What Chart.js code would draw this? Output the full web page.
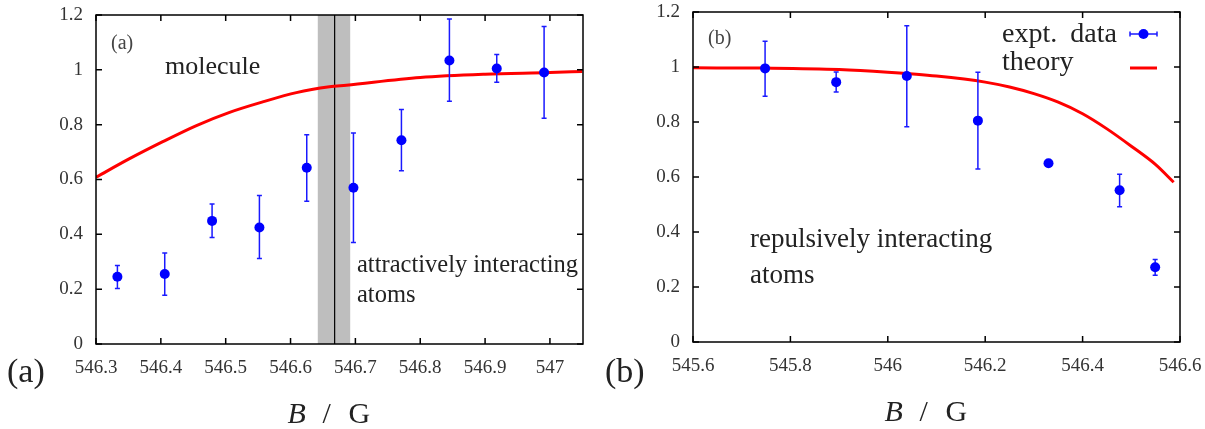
<!DOCTYPE html>
<html>
<head>
<meta charset="utf-8">
<script src="https://cdn.jsdelivr.net/npm/chart.js@4.4.0/dist/chart.umd.min.js"></script>
<style>
  body { margin: 0; background: #fff; }
  #wrap { position: relative; width: 1205px; height: 429px; }
  canvas { position: absolute; top: 0; }
  #chartA { left: 0; }
  #chartB { left: 600px; }
</style>
</head>
<body>
<div id="wrap">
  <canvas id="chartA" width="600" height="429"></canvas>
  <canvas id="chartB" width="605" height="429"></canvas>
</div>
<script>
// ---- panel (a) data ----
var fieldA    = [546.333, 546.406, 546.479, 546.552, 546.625, 546.697, 546.771, 546.845, 546.918, 546.991];
var fracA     = [0.245, 0.255, 0.449, 0.425, 0.643, 0.570, 0.743, 1.034, 1.005, 0.990];
var fracALow  = [0.202, 0.178, 0.388, 0.312, 0.521, 0.370, 0.632, 0.885, 0.955, 0.823];
var fracAHigh = [0.286, 0.332, 0.511, 0.542, 0.763, 0.770, 0.855, 1.185, 1.056, 1.158];
var theoryAx  = [546.300, 546.351, 546.403, 546.454, 546.506, 546.557, 546.609, 546.660, 546.686, 546.8, 546.9, 547.0, 547.05];
var theoryAy  = [0.608, 0.675, 0.738, 0.796, 0.845, 0.883, 0.917, 0.938, 0.944, 0.972, 0.984, 0.990, 0.994];
var xTicksA   = [546.3, 546.4, 546.5, 546.6, 546.7, 546.8, 546.9, 547.0];
var bandA     = [546.642, 546.692];   // shaded resonance region
var centerA   = 546.668;              // resonance position

// ---- panel (b) data ----
var fieldB    = [545.748, 545.894, 546.039, 546.185, 546.330, 546.476, 546.549];
var fracB     = [0.995, 0.945, 0.967, 0.805, 0.650, 0.552, 0.272];
var fracBLow  = [0.894, 0.909, 0.783, 0.629, 0.650, 0.492, 0.243];
var fracBHigh = [1.094, 0.982, 1.150, 0.981, 0.650, 0.610, 0.300];
var theoryBx  = [545.6, 545.75, 545.9, 546.0, 546.1, 546.2, 546.25, 546.3, 546.35, 546.4, 546.45, 546.5, 546.55, 546.587];
var theoryBy  = [0.997, 0.996, 0.991, 0.981, 0.967, 0.945, 0.927, 0.903, 0.872, 0.830, 0.775, 0.712, 0.645, 0.581];
var xTicksB   = [545.6, 545.8, 546.0, 546.2, 546.4, 546.6];

var yTicks    = [0, 0.2, 0.4, 0.6, 0.8, 1.0, 1.2];

var FONT = '"Liberation Serif", "Times New Roman", serif';

function pts(xs, ys) {
  return xs.map(function(x, i) { return { x: x, y: ys[i] }; });
}

function fmt(v) {
  return String(Number(v.toFixed(3)));
}

// error bars, drawn just before the data points
var errorBarPlugin = {
  id: 'errorBars',
  beforeDatasetDraw: function(chart, args) {
    var ds = chart.data.datasets[args.index];
    if (!ds.errLow) return;
    var ctx = chart.ctx, xs = chart.scales.x, ys = chart.scales.y;
    ctx.save();
    ctx.strokeStyle = '#1a1aff';
    ctx.lineWidth = 1.5;
    ds.data.forEach(function(p, i) {
      var px = xs.getPixelForValue(p.x);
      var lo = ys.getPixelForValue(ds.errLow[i]);
      var hi = ys.getPixelForValue(ds.errHigh[i]);
      if (Math.abs(lo - hi) < 1) return;
      ctx.beginPath();
      ctx.moveTo(px, lo); ctx.lineTo(px, hi);
      ctx.moveTo(px - 2.5, lo); ctx.lineTo(px + 2.5, lo);
      ctx.moveTo(px - 2.5, hi); ctx.lineTo(px + 2.5, hi);
      ctx.stroke();
    });
    ctx.restore();
  }
};

// gnuplot style frame, inward ticks, texts
var decorPlugin = {
  id: 'decor',
  beforeDatasetsDraw: function(chart, args, opts) {
    if (!opts.band) return;
    var ctx = chart.ctx, a = chart.chartArea, xs = chart.scales.x;
    var x0 = xs.getPixelForValue(opts.band[0]);
    var x1 = xs.getPixelForValue(opts.band[1]);
    var xc = xs.getPixelForValue(opts.center);
    ctx.save();
    ctx.fillStyle = '#bebebe';
    ctx.fillRect(x0, a.top, x1 - x0, a.bottom - a.top);
    ctx.strokeStyle = '#000';
    ctx.lineWidth = 1.2;
    ctx.beginPath();
    ctx.moveTo(xc, a.top); ctx.lineTo(xc, a.bottom);
    ctx.stroke();
    ctx.restore();
  },
  afterDraw: function(chart, args, opts) {
    var ctx = chart.ctx, a = chart.chartArea;
    var xs = chart.scales.x, ys = chart.scales.y;
    ctx.save();
    ctx.strokeStyle = '#000';
    ctx.lineWidth = 1.5;
    ctx.beginPath();
    xs.ticks.forEach(function(t) {
      var px = xs.getPixelForValue(t.value);
      ctx.moveTo(px, a.bottom); ctx.lineTo(px, a.bottom - 6);
      ctx.moveTo(px, a.top); ctx.lineTo(px, a.top + 6);
    });
    ys.ticks.forEach(function(t) {
      var py = ys.getPixelForValue(t.value);
      ctx.moveTo(a.left, py); ctx.lineTo(a.left + 6, py);
      ctx.moveTo(a.right, py); ctx.lineTo(a.right - 6, py);
    });
    ctx.stroke();
    ctx.strokeRect(a.left, a.top, a.right - a.left, a.bottom - a.top);

    // texts inside the plot
    ctx.textBaseline = 'alphabetic';
    ctx.textAlign = 'left';
    (opts.texts || []).forEach(function(t) {
      ctx.fillStyle = t.color || '#222';
      ctx.font = t.size + 'px ' + FONT;
      ctx.fillText(t.text, a.left + t.dx, a.top + t.dy);
    });

    // panel letter
    ctx.fillStyle = '#222';
    ctx.font = '34px ' + FONT;
    ctx.fillText(opts.letter, opts.letterX, 382);

    // axis title: B / G
    var cx = (a.left + a.right) / 2 - 52;
    var by = a.bottom + 79;
    ctx.font = 'italic 30px ' + FONT;
    ctx.fillText('B', cx, by);
    ctx.font = '30px ' + FONT;
    ctx.fillText('/', cx + 35, by);
    ctx.fillText('G', cx + 61, by);

    // key
    if (opts.key) {
      var ds0 = chart.data.datasets[0], ds1 = chart.data.datasets[1];
      var kx = a.right - 178;
      ctx.font = '28px ' + FONT;
      ctx.fillStyle = '#222';
      ctx.wordSpacing = '6px';
      ctx.fillText(ds0.label, kx, a.top + 30);
      ctx.wordSpacing = '0px';
      ctx.fillText(ds1.label, kx, a.top + 58);
      var s0 = a.right - 50, s1 = a.right - 23;
      ctx.strokeStyle = '#1a1aff';
      ctx.lineWidth = 1.5;
      ctx.beginPath();
      ctx.moveTo(s0, a.top + 22); ctx.lineTo(s1, a.top + 22);
      ctx.moveTo(s0, a.top + 19.5); ctx.lineTo(s0, a.top + 24.5);
      ctx.moveTo(s1, a.top + 19.5); ctx.lineTo(s1, a.top + 24.5);
      ctx.stroke();
      ctx.fillStyle = '#0000ff';
      ctx.beginPath();
      ctx.arc((s0 + s1) / 2, a.top + 22, 5, 0, Math.PI * 2);
      ctx.fill();
      ctx.strokeStyle = '#ff0000';
      ctx.lineWidth = 3;
      ctx.beginPath();
      ctx.moveTo(s0, a.top + 56); ctx.lineTo(s1, a.top + 56);
      ctx.stroke();
    }
    ctx.restore();
  }
};

function noPad(s) {
  s.paddingTop = 0; s.paddingBottom = 0;
  s.paddingLeft = 0; s.paddingRight = 0;
}

function makeChart(id, cfg) {
  var ctx = document.getElementById(id);
  return new Chart(ctx, {
    type: 'scatter',
    data: {
      datasets: [
        {
          label: 'expt. data',
          data: pts(cfg.fx, cfg.fy),
          errLow: cfg.lo,
          errHigh: cfg.hi,
          backgroundColor: '#0000ff',
          borderWidth: 0,
          pointRadius: 5,
          showLine: false
        },
        {
          label: 'theory',
          data: pts(cfg.tx, cfg.ty),
          borderColor: '#ff0000',
          borderWidth: 3,
          pointRadius: 0,
          showLine: true,
          cubicInterpolationMode: 'monotone',
          fill: false
        }
      ]
    },
    options: {
      responsive: false,
      animation: false,
      devicePixelRatio: 1,
      layout: { padding: { left: 0, right: cfg.padRight, top: cfg.padTop, bottom: 0 } },
      plugins: {
        legend: { display: false },
        tooltip: { enabled: false },
        decor: cfg.decor
      },
      scales: {
        x: {
          type: 'linear',
          min: cfg.xmin,
          max: cfg.xmax,
          afterBuildTicks: function(s) { s.ticks = cfg.xticks.map(function(v) { return { value: v }; }); },
          afterFit: function(s) { s.height = cfg.xHeight; noPad(s); },
          grid: { display: false, drawTicks: false },
          border: { display: false },
          ticks: {
            padding: 13,
            autoSkip: false,
            maxRotation: 0,
            color: '#333',
            font: { family: FONT, size: 19 },
            callback: function(v) { return fmt(v); }
          }
        },
        y: {
          type: 'linear',
          min: 0,
          max: 1.2,
          afterBuildTicks: function(s) { s.ticks = yTicks.map(function(v) { return { value: v }; }); },
          afterFit: function(s) { s.width = cfg.yWidth; noPad(s); },
          grid: { display: false, drawTicks: false },
          border: { display: false },
          ticks: {
            padding: 13,
            color: '#333',
            font: { family: FONT, size: 19 },
            callback: function(v) { return fmt(v); }
          }
        }
      }
    },
    plugins: [errorBarPlugin, decorPlugin]
  });
}

makeChart('chartA', {
  fx: fieldA, fy: fracA, lo: fracALow, hi: fracAHigh,
  tx: theoryAx, ty: theoryAy,
  xmin: 546.3, xmax: 547.051, xticks: xTicksA,
  padRight: 17, padTop: 15, xHeight: 85, yWidth: 96,
  decor: {
    band: bandA, center: centerA, letter: '(a)', letterX: 7,
    texts: [
      { text: '(a)', dx: 15, dy: 34, size: 20, color: '#444' },
      { text: 'molecule', dx: 69, dy: 59, size: 26 },
      { text: 'attractively interacting', dx: 261, dy: 257, size: 24.5 },
      { text: 'atoms', dx: 261, dy: 287, size: 24.5 }
    ]
  }
});

makeChart('chartB', {
  fx: fieldB, fy: fracB, lo: fracBLow, hi: fracBHigh,
  tx: theoryBx, ty: theoryBy,
  xmin: 545.6, xmax: 546.6, xticks: xTicksB,
  padRight: 25, padTop: 12, xHeight: 87, yWidth: 93,
  decor: {
    letter: '(b)', letterX: 5, key: true,
    texts: [
      { text: '(b)', dx: 15, dy: 32, size: 20, color: '#444' },
      { text: 'repulsively interacting', dx: 57, dy: 235, size: 27 },
      { text: 'atoms', dx: 57, dy: 271, size: 27 }
    ]
  }
});
</script>
</body>
</html>
